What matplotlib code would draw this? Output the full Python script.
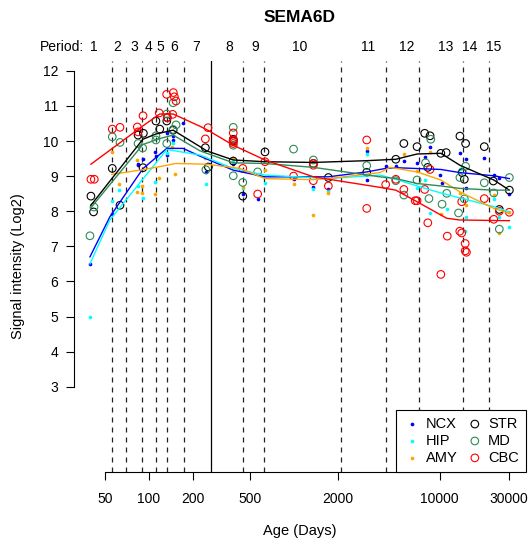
import matplotlib
matplotlib.use("Agg")
import matplotlib.pyplot as plt
import matplotlib.transforms as mtransforms

plt.rcParams['font.family'] = ['Liberation Sans', 'DejaVu Sans']

# period boundaries (days), the 7th one (birth) is drawn solid
bounds = [56, 70, 90, 112, 133, 175, 268, 443, 623, 2090, 4260, 7180, 14400, 21800]
birth = 268
period_labels = ['1', '2', '3', '4', '5', '6', '7', '8', '9', '10', '11', '12', '13', '14', '15']
period_pos = [42, 61, 79.5, 100, 119.5, 150, 210, 356, 540, 1085, 3235, 5940, 11020, 16200, 23700]

# sample points per region (age in days, log2 signal)
ncx_age = [39.4, 55.6, 84, 84, 90.6, 110, 112, 133, 146, 146, 172, 133, 248, 381, 443, 561,
           990, 1355, 1718, 3155, 3155, 4260, 5012, 5675, 7015, 7890, 8530, 10100, 10400,
           13800, 15100, 15200, 20300, 23600, 25800, 30200]
ncx_val = [6.49, 7.93, 9.34, 9.31, 9.48, 9.69, 9.58, 10.23, 10.14, 10.03, 10.51, 9.60, 9.12, 9.35,
           8.49, 8.35, 8.91, 8.68, 8.62, 8.89, 9.73, 9.28, 9.28, 9.43, 9.36, 9.55, 9.84, 9.03, 8.79,
           9.67, 9.48, 8.67, 9.53, 9.03, 8.96, 8.48]

hip_age = [39.4, 55.6, 62.9, 84, 90.6, 111, 133, 146, 248, 381, 443, 630, 1355, 1718, 3155,
           7015, 7890, 8530, 11190, 13770, 15000, 15100, 23600, 25760, 30200]
hip_val = [5.0, 8.29, 8.60, 8.72, 8.38, 8.82, 9.65, 9.93, 8.77, 9.4, 8.65, 8.81, 8.62, 8.58, 9.63,
           8.67, 8.89, 7.95, 8.06, 9.19, 7.43, 7.84, 8.36, 7.84, 7.56]

amy_age = [55.6, 62.9, 83.4, 83.4, 90, 90, 118, 110, 144, 152, 245, 381, 443, 630, 990, 1355,
           1718, 3155, 5675, 7015, 8530, 10200, 13800, 15100, 23600, 25760, 30200]
amy_val = [9.69, 8.77, 9.46, 8.55, 8.71, 8.52, 8.96, 8.49, 9.82, 9.06, 9.52, 9.53, 8.68, 9.17, 8.77,
           7.89, 8.53, 9.79, 9.63, 9.15, 9.69, 7.92, 8.52, 8.19, 8.46, 7.38, 7.98]

str_age = [40, 41.7, 56.1, 63.4, 84.4, 91.8, 91.3, 112, 119, 133, 134, 147, 245, 257, 381, 381,
           381, 443, 630, 1355, 1718, 3155, 5000, 5680, 7000, 7900, 8600, 8300, 10200, 11100,
           13800, 15100, 14300, 14800, 20300, 23400, 25760, 30200]
str_val = [8.43, 7.98, 9.22, 8.17, 10.17, 10.22, 9.24, 10.57, 10.34, 10.57, 10.67, 10.31, 9.81, 9.26,
           10.05, 10.0, 9.43, 8.43, 9.69, 9.36, 8.96, 9.11, 9.48, 9.93, 9.84, 10.22, 10.15, 9.25,
           9.65, 9.67, 10.14, 9.93, 9.10, 8.91, 9.84, 8.86, 8.05, 8.60]

md_age = [39.4, 42, 56.1, 63.4, 84.4, 90.8, 112, 112, 133, 133, 147, 154, 147, 247, 381, 381, 381,
          443, 561, 990, 1355, 3155, 5000, 5680, 7000, 8000, 8450, 8700, 10400, 11190, 13500,
          13800, 14800, 15100, 20300, 23600, 25760, 30200]
md_val = [7.30, 8.12, 10.12, 9.96, 9.93, 9.80, 10.15, 10.03, 10.77, 9.93, 11.09, 10.46, 10.33, 9.18,
          10.39, 9.88, 9.01, 8.82, 9.12, 9.77, 9.46, 9.30, 8.87, 8.46, 8.89, 9.38, 8.36, 10.05,
          8.20, 8.51, 7.95, 8.96, 8.35, 9.28, 8.81, 8.52, 7.49, 8.96]

cbc_age = [40, 42.2, 56.1, 63.4, 83.4, 91.3, 84.4, 118, 132.7, 147.5, 150, 153.9, 134, 146, 255.6,
           245, 381, 381, 381, 381, 443, 561, 630, 990, 1355, 1355, 1355, 1718, 3155, 3155, 4260,
           5000, 5680, 6800, 7000, 7900, 8600, 8300, 10200, 11300, 13770, 14200, 14200, 15000,
           15000, 15300, 20300, 23600, 25760, 30200]
cbc_val = [8.91, 8.91, 10.34, 10.39, 10.40, 10.72, 10.26, 10.80, 11.33, 11.38, 11.26, 11.14, 10.66,
           10.76, 10.38, 10.06, 10.23, 10.03, 9.98, 9.93, 9.22, 8.49, 9.41, 9.00, 9.31, 9.36, 8.87,
           8.72, 10.03, 8.08, 8.76, 8.91, 8.62, 8.30, 8.30, 8.62, 9.19, 7.67, 6.20, 7.29, 7.43,
           7.38, 8.27, 7.08, 6.87, 6.83, 8.36, 7.77, 8.00, 7.97]

# smoothed trend per region
ncx_fit_age = [39.4, 54, 91, 133, 172, 225, 381, 630, 1718, 3155, 4260, 5000, 10200, 13800, 23600, 30200]
ncx_fit_val = [6.70, 7.84, 9.21, 9.79, 9.79, 9.57, 9.17, 8.98, 8.98, 9.12, 9.22, 9.24, 9.19, 9.10, 9.01, 8.93]
hip_fit_age = [39.4, 54, 133, 225, 381, 630, 1718, 3893, 5000, 7000, 10200, 13800, 23600, 30200]
hip_fit_val = [6.50, 7.75, 9.76, 9.60, 9.22, 9.03, 8.93, 9.03, 8.91, 8.72, 8.52, 8.38, 8.13, 7.98]
amy_fit_age = [55.6, 87, 119, 153, 250, 424, 630, 1355, 1718, 3893, 4560, 7000, 10200, 13800, 23600, 30200]
amy_fit_val = [9.05, 9.17, 9.27, 9.36, 9.34, 9.22, 8.93, 8.90, 8.93, 9.10, 9.25, 9.12, 8.89, 8.55, 8.08, 7.94]
str_fit_age = [40, 91, 112, 147, 225, 250, 381, 630, 1355, 3155, 5000, 7000, 10200, 13800, 23600, 30200]
str_fit_val = [8.17, 10.05, 10.20, 10.31, 9.84, 9.72, 9.46, 9.41, 9.39, 9.44, 9.48, 9.63, 9.65, 9.31, 8.89, 8.60]
md_fit_age = [40, 91, 119, 147, 225, 381, 630, 1355, 3893, 5000, 7000, 10200, 13800, 23600, 30200]
md_fit_val = [8.10, 9.90, 10.07, 10.17, 9.72, 9.38, 9.36, 9.25, 8.98, 8.93, 8.79, 8.72, 8.65, 8.60, 8.60]
cbc_fit_age = [40, 91, 119, 147, 225, 257, 381, 630, 1355, 3893, 5000, 7000, 11190, 13800, 30200]
cbc_fit_val = [9.34, 10.43, 10.77, 10.77, 10.42, 10.30, 9.88, 9.46, 8.98, 8.68, 8.60, 8.27, 7.80, 7.75, 7.73]

fig = plt.figure(figsize=(5.28, 5.45), dpi=100)
ax = fig.add_axes([74 / 528, 1 - 472 / 545, (526 - 74) / 528, (472 - 61) / 545])
ax.set_xscale('log')
ax.set_xlim(30.6, 39300)
ax.set_ylim(0.57, 12.28)

# period boundaries
for b in bounds:
    if b == birth:
        ax.axvline(b, color='black', lw=0.9)
    else:
        ax.axvline(b, color='#222222', lw=0.9, ls=(0, (4, 4)))

dots = [('NCX', ncx_age, ncx_val, 'blue'), ('HIP', hip_age, hip_val, 'cyan'),
        ('AMY', amy_age, amy_val, 'orange')]
rings = [('STR', str_age, str_val, 'black'), ('MD', md_age, md_val, 'seagreen'),
         ('CBC', cbc_age, cbc_val, 'red')]
fits = [(ncx_fit_age, ncx_fit_val, 'blue'), (hip_fit_age, hip_fit_val, 'cyan'),
        (amy_fit_age, amy_fit_val, 'orange'), (str_fit_age, str_fit_val, 'black'),
        (md_fit_age, md_fit_val, 'seagreen'), (cbc_fit_age, cbc_fit_val, 'red')]

handles = []
for name, a, v, c in dots:
    h = ax.scatter(a, v, s=7, color=c, label=name, zorder=3, linewidths=0)
    handles.append(h)
for name, a, v, c in rings:
    h = ax.scatter(a, v, s=30, facecolors='none', edgecolors=c, linewidths=0.8, label=name, zorder=3)
    handles.append(h)
for a, v, c in fits:
    ax.plot(a, v, color=c, lw=1.0, zorder=4)

# R-like axes
for s in ['top', 'right']:
    ax.spines[s].set_visible(False)
ax.spines['left'].set_bounds(3, 12)
ax.spines['bottom'].set_bounds(50, 30000)
ax.set_yticks(range(3, 13))
xt = [50, 100, 200, 500, 2000, 10000, 30000]
ax.set_xticks(xt)
ax.set_xticklabels([str(t) for t in xt])
ax.xaxis.set_minor_locator(matplotlib.ticker.NullLocator())
ax.tick_params(axis='x', length=5.5, width=0.8, pad=9, labelsize=10)
ax.tick_params(axis='y', length=5.5, width=0.8, pad=6, labelsize=10)

ax.set_xlabel('Age (Days)', fontsize=10.5)
ax.xaxis.set_label_coords(0.5, -0.127)
ax.set_ylabel('Signal intensity (Log2)', fontsize=10.5)
ax.yaxis.set_label_coords(-0.108, 0.5)

leg = ax.legend(handles=handles, ncol=2, loc='lower right', bbox_to_anchor=(1, 0),
                borderaxespad=0, fancybox=False, edgecolor='black', framealpha=1,
                fontsize=10.5, handletextpad=0.3, columnspacing=0.6, labelspacing=0.2,
                handlelength=1.2, borderpad=0.5)
leg.get_frame().set_linewidth(0.8)

# period labels along the top
trans = mtransforms.blended_transform_factory(ax.transData, fig.transFigure)
for lab, p in zip(period_labels, period_pos):
    ax.text(p, 1 - 46.7 / 545, lab, transform=trans, ha='center', va='center', fontsize=10)
fig.text(84 / 528, 1 - 46.7 / 545, 'Period:', ha='right', va='center', fontsize=10)

fig.text(300 / 528, 1 - 17 / 545, 'SEMA6D', ha='center', va='center', fontsize=12.5, fontweight='bold')

fig.savefig('out.png', dpi=100)
